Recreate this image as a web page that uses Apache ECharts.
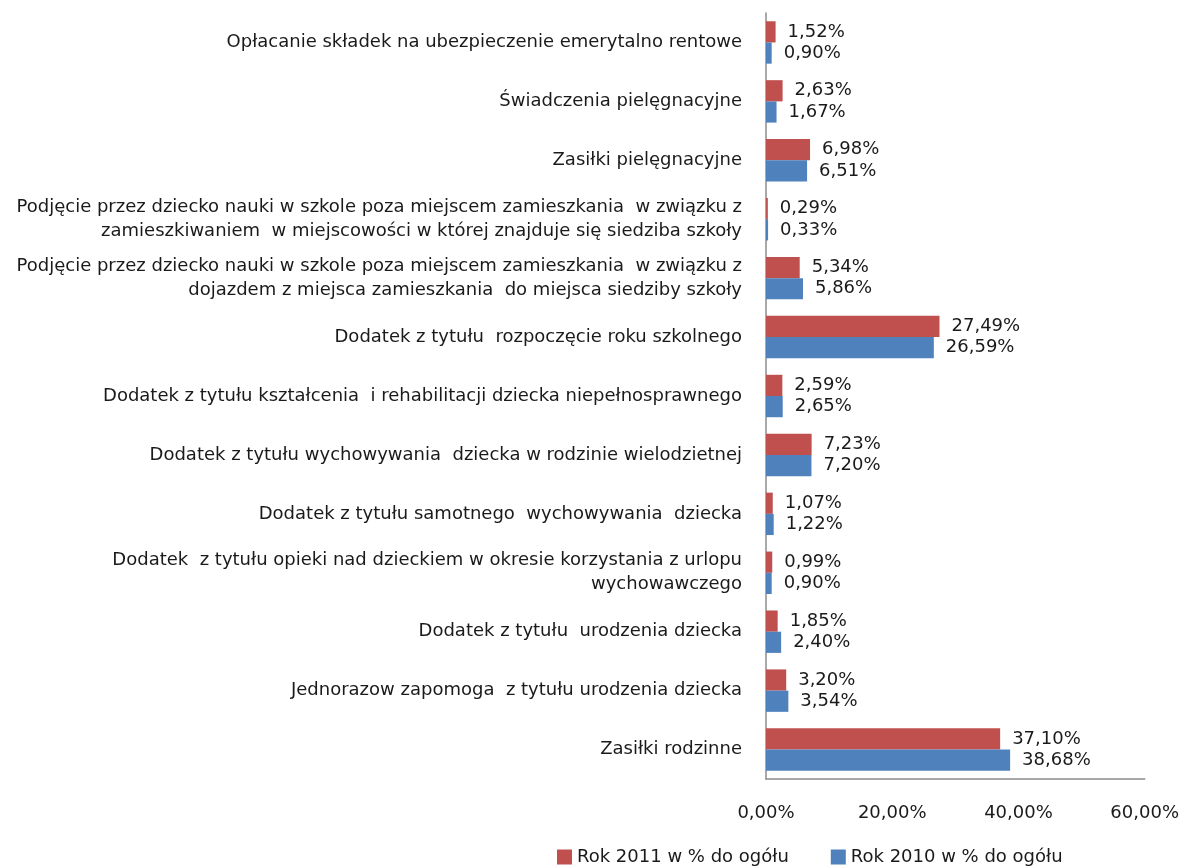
<!DOCTYPE html>
<html>
<head>
<meta charset="utf-8">
<script src="https://cdn.jsdelivr.net/npm/echarts@6/dist/echarts.min.js"></script>
<style>
  html, body { margin: 0; padding: 0; background: #fff; }
  #chart { width: 1182px; height: 867px; }
</style>
</head>
<body>
<div id="chart"></div>
<script>
  // categories, top to bottom as in the picture
  var categories = [
    'Opłacanie składek na ubezpieczenie emerytalno rentowe',
    'Świadczenia pielęgnacyjne',
    'Zasiłki pielęgnacyjne',
    'Podjęcie przez dziecko nauki w szkole poza miejscem zamieszkania  w związku z\nzamieszkiwaniem  w miejscowości w której znajduje się siedziba szkoły',
    'Podjęcie przez dziecko nauki w szkole poza miejscem zamieszkania  w związku z\ndojazdem z miejsca zamieszkania  do miejsca siedziby szkoły',
    'Dodatek z tytułu  rozpoczęcie roku szkolnego',
    'Dodatek z tytułu kształcenia  i rehabilitacji dziecka niepełnosprawnego',
    'Dodatek z tytułu wychowywania  dziecka w rodzinie wielodzietnej',
    'Dodatek z tytułu samotnego  wychowywania  dziecka',
    'Dodatek  z tytułu opieki nad dzieckiem w okresie korzystania z urlopu\nwychowawczego',
    'Dodatek z tytułu  urodzenia dziecka',
    'Jednorazow zapomoga  z tytułu urodzenia dziecka',
    'Zasiłki rodzinne'
  ];
  var rok2011 = [1.52, 2.63, 6.98, 0.29, 5.34, 27.49, 2.59, 7.23, 1.07, 0.99, 1.85, 3.20, 37.10];
  var rok2010 = [0.90, 1.67, 6.51, 0.33, 5.86, 26.59, 2.65, 7.20, 1.22, 0.90, 2.40, 3.54, 38.68];
  var seriesNames = ['Rok 2011 w % do ogółu', 'Rok 2010 w % do ogółu'];
  var xTicks = { min: 0, max: 60, step: 20 };

  var FONT = '"DejaVu Sans", Verdana, sans-serif';

  function pct(v) {
    return v.toFixed(2).replace('.', ',') + '%';
  }

  var valueLabel = {
    show: true,
    position: 'right',
    distance: 12,
    fontFamily: FONT,
    fontSize: 18,
    color: '#1a1a1a',
    formatter: function (p) { return pct(p.value); }
  };

  var chart = echarts.init(document.getElementById('chart'));
  chart.setOption({
    animation: false,
    textStyle: { fontFamily: FONT },
    grid: {
      left: 766,
      right: 35,
      top: 13,
      bottom: 88
    },
    legend: {
      data: seriesNames,
      left: 552,
      top: 843,
      itemWidth: 15,
      itemHeight: 15,
      itemGap: 42,
      itemSpacing: 4,
      icon: 'rect',
      textStyle: { fontFamily: FONT, fontSize: 18, color: '#1a1a1a' }
    },
    xAxis: {
      type: 'value',
      min: xTicks.min,
      max: xTicks.max,
      interval: xTicks.step,
      axisLine: { show: true, lineStyle: { color: '#8c8c8c', width: 1.5 } },
      axisTick: { show: false },
      splitLine: { show: false },
      axisLabel: {
        margin: 25,
        fontFamily: FONT,
        fontSize: 18,
        color: '#1a1a1a',
        formatter: pct
      }
    },
    yAxis: {
      type: 'category',
      inverse: true,
      data: categories,
      axisLine: { show: true, lineStyle: { color: '#8c8c8c', width: 1.5 } },
      axisTick: { show: false },
      axisLabel: {
        margin: 24,
        fontFamily: FONT,
        fontSize: 18,
        lineHeight: 24,
        color: '#1a1a1a',
        align: 'right'
      }
    },
    series: [
      {
        name: seriesNames[0],
        type: 'bar',
        data: rok2011,
        barGap: '0%',
        barCategoryGap: '28%',
        itemStyle: { color: '#c0504d' },
        label: valueLabel
      },
      {
        name: seriesNames[1],
        type: 'bar',
        data: rok2010,
        barGap: '0%',
        barCategoryGap: '28%',
        itemStyle: { color: '#4f81bd' },
        label: valueLabel
      }
    ]
  });
</script>
</body>
</html>
